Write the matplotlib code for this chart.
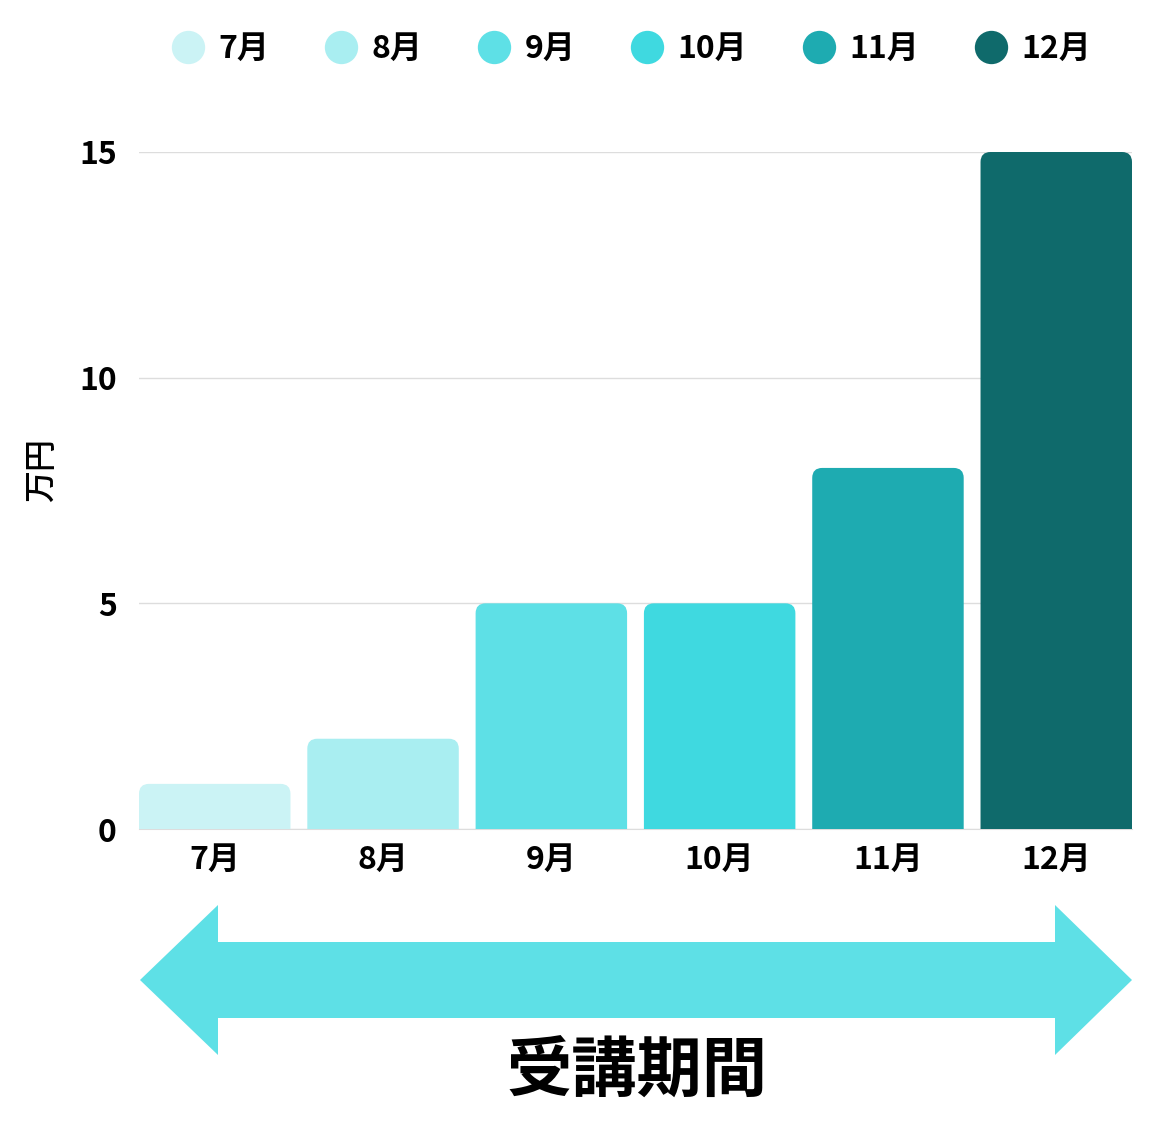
import matplotlib.pyplot as plt
from matplotlib.path import Path
from matplotlib.patches import PathPatch, Polygon
from matplotlib.lines import Line2D
import numpy as np

plt.rcParams['font.family'] = ['Noto Sans CJK JP', 'DejaVu Sans']

# data
months = ['7月', '8月', '9月', '10月', '11月', '12月']
values = [1, 2, 5, 5, 8, 15]
colors = ['#CBF3F5', '#A9EEF1', '#5EE0E6', '#3FD9E0', '#1EABB1', '#0F6A6B']
yticks = [0, 5, 10, 15]

W, H = 1175, 1140
fig = plt.figure(figsize=(W / 100, H / 100), dpi=100)
ax = fig.add_axes([139 / W, 1 - 829 / H, (1132 - 139) / W, (829 - 152) / H])

x = np.arange(len(months))
bw = 0.9
bars = ax.bar(x, values, width=bw, color=colors)
ax.set_xlim(-bw / 2, len(months) - 1 + bw / 2)
ax.set_ylim(0, 15)

# rounded top corners (~10 px)
ax_w_px = 1132 - 139
ax_h_px = 829 - 152
rx = 10 / (ax_w_px / (len(months) - 1 + bw))
ry = 10 / (ax_h_px / 15)
for b in bars:
    x0 = b.get_x(); x1 = x0 + b.get_width(); h = b.get_height()
    verts = [(x0, 0), (x0, h - ry), (x0, h), (x0 + rx, h), (x1 - rx, h),
             (x1, h), (x1, h - ry), (x1, 0), (x0, 0)]
    codes = [Path.MOVETO, Path.LINETO, Path.CURVE3, Path.CURVE3, Path.LINETO,
             Path.CURVE3, Path.CURVE3, Path.LINETO, Path.CLOSEPOLY]
    p = PathPatch(Path(verts, codes), facecolor=b.get_facecolor(), edgecolor='none', zorder=3)
    b.set_visible(False)
    ax.add_patch(p)

ax.set_yticks(yticks)
ax.set_yticklabels([str(v) for v in yticks], fontsize=23, fontweight='bold')
ax.set_xticks(x)
ax.set_xticklabels(months, fontsize=23, fontweight='bold')
ax.tick_params(axis='y', length=0, pad=16)
ax.tick_params(axis='x', length=0, pad=11)
ax.grid(axis='y', color='#dddddd', lw=1, zorder=0)
ax.set_axisbelow(True)
for s in ['top', 'right', 'left']:
    ax.spines[s].set_visible(False)
ax.spines['bottom'].set_color('#dddddd')
ax.set_ylabel('万円', fontsize=23, fontweight='medium')
ax.yaxis.set_label_coords(-0.081, 0.53)

# legend
handles = [Line2D([], [], marker='o', ls='none', markersize=24, markerfacecolor=c,
                  markeredgecolor='none') for c in colors]
fig.legend(handles, months, loc='center', bbox_to_anchor=(630 / W, 1 - 49 / H), ncol=6,
           frameon=False, prop={'size': 23, 'weight': 'bold'}, handletextpad=0.35,
           columnspacing=1.65, handlelength=1.2)

# double arrow
def fp(px, py):
    return (px / W, 1 - py / H)
pts = [fp(140, 980), fp(218, 905), fp(218, 942), fp(1055, 942), fp(1055, 905),
       fp(1132, 980), fp(1055, 1055), fp(1055, 1018), fp(218, 1018), fp(218, 1055)]
fig.patches.append(Polygon(pts, closed=True, transform=fig.transFigure,
                           facecolor='#5EE0E6', edgecolor='none'))
fig.text(637 / W, 1 - 1072 / H, '受講期間', ha='center', va='center', fontsize=47,
         fontweight='bold')

fig.savefig('out.png', dpi=100)
